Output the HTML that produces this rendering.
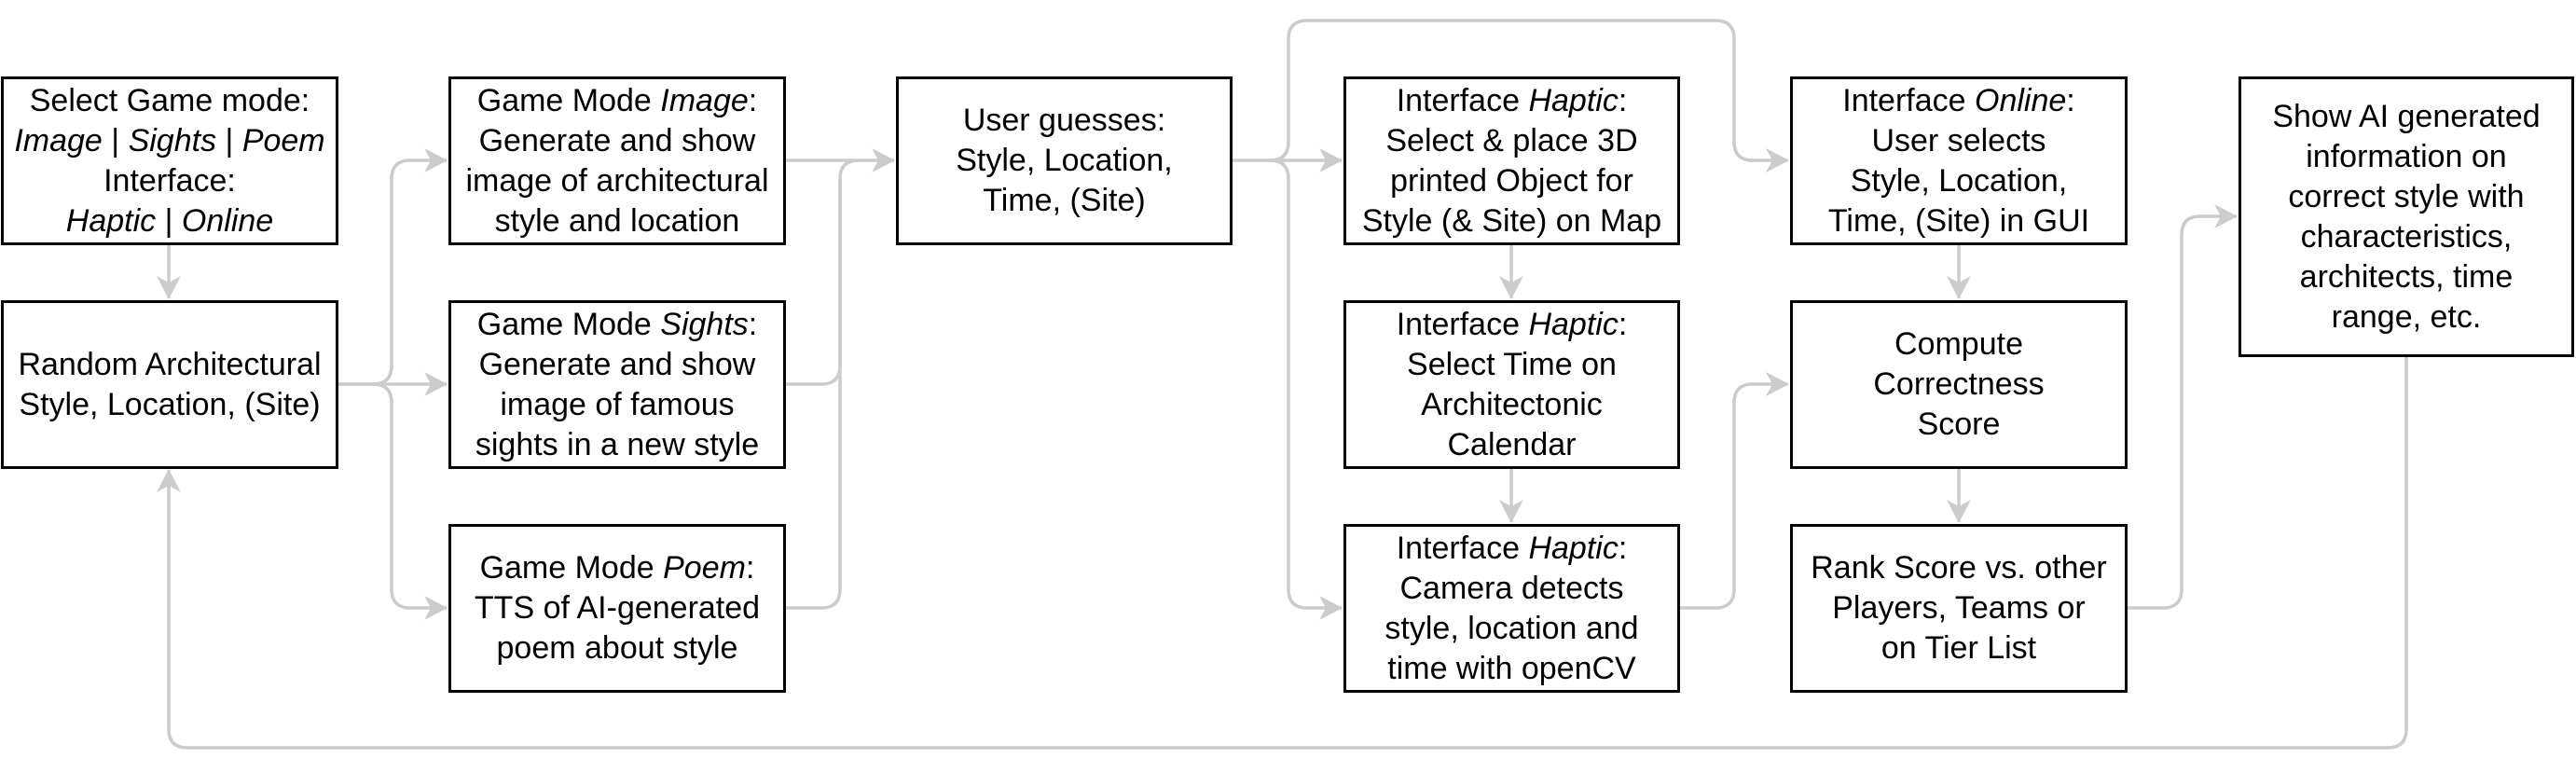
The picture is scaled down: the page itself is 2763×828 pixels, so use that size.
<!DOCTYPE html>
<html><head><meta charset="utf-8"><style>
html,body{margin:0;padding:0;background:#fff;}
body{width:2763px;height:828px;position:relative;overflow:hidden;font-family:"Liberation Sans",sans-serif;}
.b{position:absolute;box-sizing:border-box;border:3.5px solid #000;display:flex;align-items:center;justify-content:center;text-align:center;font-size:34px;line-height:43px;color:#000;background:#fff;white-space:nowrap;}
.b>div{display:block;}
svg{position:absolute;left:0;top:0;}
</style></head><body>
<svg width="2763" height="828">
<defs><marker id="a" markerWidth="26" markerHeight="26" refX="24" refY="13" orient="auto" markerUnits="userSpaceOnUse"><path d="M0,0 L25,13 L0,26 L7,13 Z" fill="#ccc"/></marker></defs>
<g fill="none" stroke="#ccc" stroke-width="3.5">
<path d="M181,262 V320" marker-end="url(#a)"/>
<path d="M362,412 H400 Q420,412 420,392 V192 Q420,172 440,172 H479" marker-end="url(#a)"/>
<path d="M362,412 H479" marker-end="url(#a)"/>
<path d="M400,412 Q420,412 420,432 V632 Q420,652 440,652 H479" marker-end="url(#a)"/>
<path d="M842,172 H959" marker-end="url(#a)"/>
<path d="M842,412 H881 Q901,412 901,392 V192 Q901,172 921,172"/>
<path d="M842,652 H881 Q901,652 901,632 V192"/>
<path d="M1321,172 H1439" marker-end="url(#a)"/>
<path d="M1362,172 Q1382,172 1382,152 V42 Q1382,22 1402,22 H1840 Q1860,22 1860,42 V152 Q1860,172 1880,172 H1918" marker-end="url(#a)"/>
<path d="M1362,172 Q1382,172 1382,192 V632 Q1382,652 1402,652 H1439" marker-end="url(#a)"/>
<path d="M1621,262 V320" marker-end="url(#a)"/>
<path d="M1621,502 V560" marker-end="url(#a)"/>
<path d="M1801,652 H1840 Q1860,652 1860,632 V432 Q1860,412 1880,412 H1918" marker-end="url(#a)"/>
<path d="M2101,262 V320" marker-end="url(#a)"/>
<path d="M2101,502 V560" marker-end="url(#a)"/>
<path d="M2282,652 H2320 Q2340,652 2340,632 V252 Q2340,232 2360,232 H2399" marker-end="url(#a)"/>
<path d="M2581,382 V782 Q2581,802 2561,802 H201 Q181,802 181,782 V504" marker-end="url(#a)"/>
</g>
</svg>
<div class="b" style="left:1px;top:82px;width:362px;height:181px"><div>Select Game mode:<br><i>Image</i> | <i>Sights</i> | <i>Poem</i><br>Interface:<br><i>Haptic</i> | <i>Online</i></div></div>
<div class="b" style="left:1px;top:322px;width:362px;height:181px"><div>Random Architectural<br>Style, Location, (Site)</div></div>
<div class="b" style="left:481px;top:82px;width:362px;height:181px"><div>Game Mode <i>Image</i>:<br>Generate and show<br>image of architectural<br>style and location</div></div>
<div class="b" style="left:481px;top:322px;width:362px;height:181px"><div>Game Mode <i>Sights</i>:<br>Generate and show<br>image of famous<br>sights in a new style</div></div>
<div class="b" style="left:481px;top:562px;width:362px;height:181px"><div>Game Mode <i>Poem</i>:<br>TTS of AI-generated<br>poem about style</div></div>
<div class="b" style="left:961px;top:82px;width:361px;height:181px"><div>User guesses:<br>Style, Location,<br>Time, (Site)</div></div>
<div class="b" style="left:1441px;top:82px;width:361px;height:181px"><div>Interface <i>Haptic</i>:<br>Select &amp; place 3D<br>printed Object for<br>Style (&amp; Site) on Map</div></div>
<div class="b" style="left:1441px;top:322px;width:361px;height:181px"><div>Interface <i>Haptic</i>:<br>Select Time on<br>Architectonic<br>Calendar</div></div>
<div class="b" style="left:1441px;top:562px;width:361px;height:181px"><div>Interface <i>Haptic</i>:<br>Camera detects<br>style, location and<br>time with openCV</div></div>
<div class="b" style="left:1920px;top:82px;width:362px;height:181px"><div>Interface <i>Online</i>:<br>User selects<br>Style, Location,<br>Time, (Site) in GUI</div></div>
<div class="b" style="left:1920px;top:322px;width:362px;height:181px"><div>Compute<br>Correctness<br>Score</div></div>
<div class="b" style="left:1920px;top:562px;width:362px;height:181px"><div>Rank Score vs. other<br>Players, Teams or<br>on Tier List</div></div>
<div class="b" style="left:2401px;top:82px;width:360px;height:301px"><div>Show AI generated<br>information on<br>correct style with<br>characteristics,<br>architects, time<br>range, etc.</div></div>
</body></html>
